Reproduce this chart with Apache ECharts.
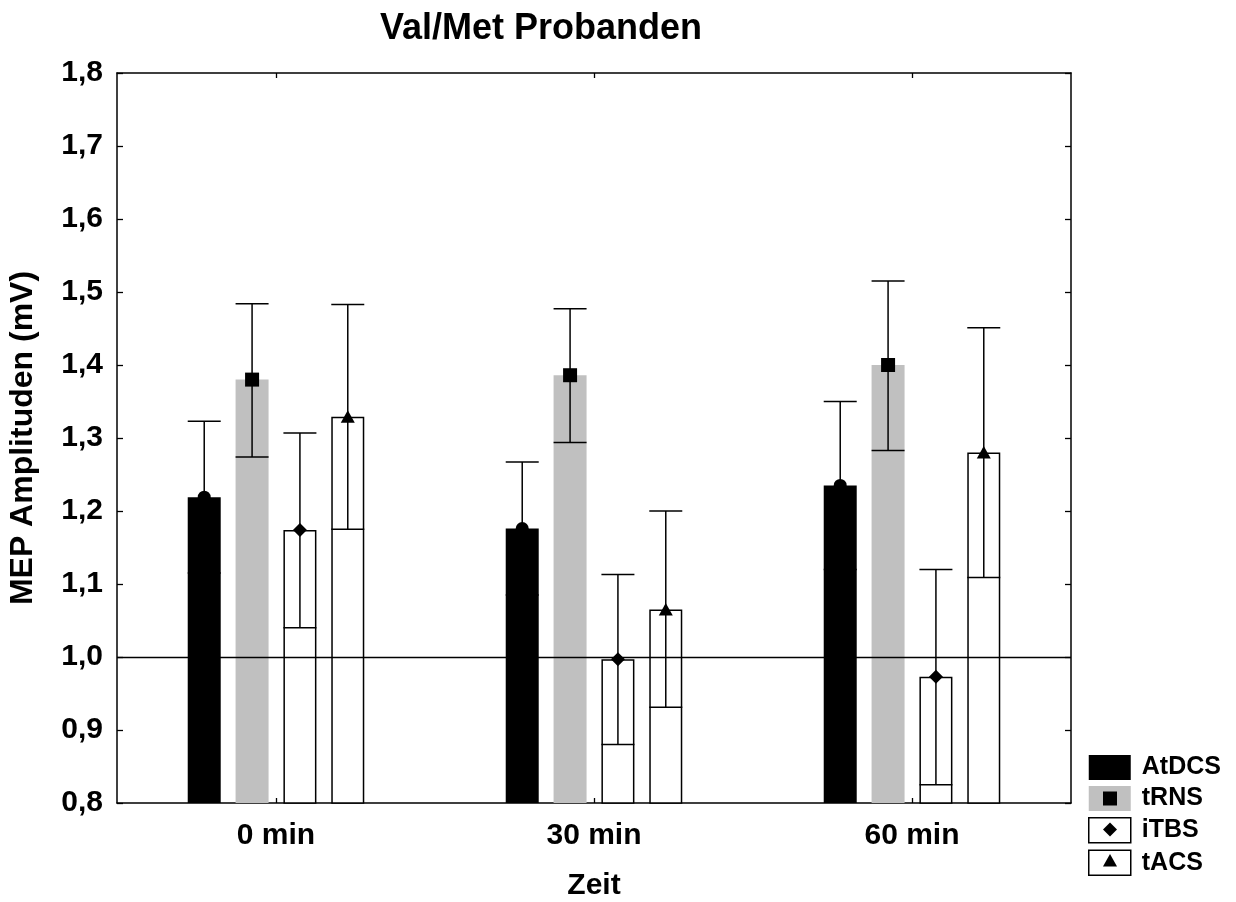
<!DOCTYPE html>
<html>
<head>
<meta charset="utf-8">
<script src="https://cdn.jsdelivr.net/npm/echarts@6/dist/echarts.min.js"></script>
<style>
html,body{margin:0;padding:0;background:#fff;}
#chart{width:1236px;height:902px;}
</style>
</head>
<body>
<div id="chart"></div>
<script>
// ---- data ----
const categories = ['0 min', '30 min', '60 min'];
const seriesNames = ['AtDCS', 'tRNS', 'iTBS', 'tACS'];
const yTickLabels = ['0,8', '0,9', '1,0', '1,1', '1,2', '1,3', '1,4', '1,5', '1,6', '1,7', '1,8'];

const atdcsMean = [1.219, 1.176, 1.235];
const atdcsLow  = [1.115, 1.085, 1.120];
const atdcsHigh = [1.323, 1.267, 1.350];

const trnsMean = [1.380, 1.386, 1.400];
const trnsLow  = [1.274, 1.294, 1.283];
const trnsHigh = [1.484, 1.477, 1.515];

const itbsMean = [1.174, 0.997, 0.973];
const itbsLow  = [1.040, 0.880, 0.825];
const itbsHigh = [1.307, 1.113, 1.120];

const tacsMean = [1.329, 1.065, 1.280];
const tacsLow  = [1.175, 0.931, 1.109];
const tacsHigh = [1.483, 1.200, 1.451];

const refValue = 1.0;

// ---- styles ----
const FONT = "'Liberation Sans', Arial, sans-serif";
const BAR_W = 33;
const BAR_GAP = 0.45;
const STEP = BAR_W * (1 + BAR_GAP);
const LW = 1.5;

const groups = [
  {name: seriesNames[0], mean: atdcsMean, low: atdcsLow, high: atdcsHigh, style: {color: '#000'}, marker: 'circle'},
  {name: seriesNames[1], mean: trnsMean, low: trnsLow, high: trnsHigh, style: {color: '#c0c0c0'}, marker: 'square'},
  {name: seriesNames[2], mean: itbsMean, low: itbsLow, high: itbsHigh, style: {color: '#fff', borderColor: '#000', borderWidth: LW}, marker: 'diamond'},
  {name: seriesNames[3], mean: tacsMean, low: tacsLow, high: tacsHigh, style: {color: '#fff', borderColor: '#000', borderWidth: LW}, marker: 'triangle'}
];

function markerShape(kind, x, y) {
  const st = {fill: '#000'};
  if (kind === 'circle') return {type: 'circle', shape: {cx: x, cy: y, r: 6.5}, style: st};
  if (kind === 'square') return {type: 'rect', shape: {x: x - 7, y: y - 7, width: 14, height: 14}, style: st};
  if (kind === 'diamond') return {type: 'polygon', shape: {points: [[x, y - 7], [x + 7, y], [x, y + 7], [x - 7, y]]}, style: st};
  return {type: 'polygon', shape: {points: [[x, y - 6.5], [x + 7, y + 6], [x - 7, y + 6]]}, style: st};
}

const series = [];
groups.forEach((g, gi) => {
  const s = {
    name: g.name,
    type: 'bar',
    xAxisIndex: 0,
    yAxisIndex: 0,
    barWidth: BAR_W,
    barGap: (BAR_GAP * 100) + '%',
    data: g.mean,
    itemStyle: g.style,
    emphasis: {disabled: true},
    z: 2
  };
  if (gi === 3) {
    s.markLine = {
      silent: true,
      symbol: ['none', 'none'],
      label: {show: false},
      lineStyle: {color: '#000', width: 1.3, type: 'solid'},
      data: [{yAxis: refValue}],
      z: 5
    };
  }
  series.push(s);
});

groups.forEach((g, gi) => {
  series.push({
    name: g.name + ' err',
    type: 'custom',
    xAxisIndex: 0,
    yAxisIndex: 0,
    z: 10,
    silent: true,
    encode: {x: 0, y: [1, 2, 3]},
    data: categories.map((c, i) => [i, g.mean[i], g.low[i], g.high[i]]),
    renderItem: function (params, api) {
      const ci = api.value(0);
      const pm = api.coord([ci, api.value(1)]);
      const pl = api.coord([ci, api.value(2)]);
      const ph = api.coord([ci, api.value(3)]);
      const x = pm[0] + (gi - 1.5) * STEP;
      const half = BAR_W / 2;
      const ls = {stroke: '#000', lineWidth: LW};
      return {
        type: 'group',
        children: [
          {type: 'line', shape: {x1: x, y1: pl[1], x2: x, y2: ph[1]}, style: ls},
          {type: 'line', shape: {x1: x - half, y1: ph[1], x2: x + half, y2: ph[1]}, style: ls},
          {type: 'line', shape: {x1: x - half, y1: pl[1], x2: x + half, y2: pl[1]}, style: ls},
          markerShape(g.marker, x, pm[1])
        ]
      };
    }
  });
});

// legend marker overlays
const LEG_LEFT = 1088, LEG_TOP = 755, LEG_W = 42, LEG_H = 25, LEG_GAP = 6;
const legendGraphics = [];
groups.forEach((g, gi) => {
  if (gi === 0) return;
  const cx = LEG_LEFT + LEG_W / 2 + 1;
  const cy = LEG_TOP + gi * (LEG_H + LEG_GAP) + LEG_H / 2;
  const m = markerShape(g.marker, cx, cy);
  m.z = 100;
  legendGraphics.push(m);
});

const axisLineStyle = {color: '#000', width: LW};

const option = {
  animation: false,
  backgroundColor: '#fff',
  title: {
    text: 'Val/Met Probanden',
    left: 375,
    top: 6,
    textStyle: {fontFamily: FONT, fontSize: 36, fontWeight: 'bold', color: '#000'}
  },
  legend: {
    orient: 'vertical',
    left: LEG_LEFT,
    top: LEG_TOP,
    itemWidth: LEG_W,
    itemHeight: LEG_H,
    itemGap: LEG_GAP,
    padding: 0,
    icon: 'rect',
    selectedMode: false,
    textStyle: {fontFamily: FONT, fontSize: 25, fontWeight: 'bold', color: '#000', padding: [0, 0, 0, 6], lineHeight: 25},
    data: groups.map(g => ({name: g.name, itemStyle: Object.assign({borderWidth: 0}, g.style)}))
  },
  graphic: legendGraphics,
  grid: {left: 117, right: 165, top: 73, bottom: 99, containLabel: false, outerBoundsMode: 'none'},
  xAxis: [
    {
      type: 'category',
      data: categories,
      position: 'bottom',
      axisLine: {show: true, lineStyle: axisLineStyle},
      axisTick: {show: true, inside: true, alignWithLabel: true, length: 5, lineStyle: {color: '#000', width: 1.3}},
      axisLabel: {fontFamily: FONT, fontSize: 30, fontWeight: 'bold', color: '#000', margin: 18},
      splitLine: {show: false},
      name: 'Zeit',
      nameLocation: 'middle',
      nameGap: 68,
      nameTextStyle: {fontFamily: FONT, fontSize: 30, fontWeight: 'bold', color: '#000'}
    },
    {
      type: 'category',
      data: categories,
      position: 'top',
      axisLine: {show: true, lineStyle: axisLineStyle},
      axisTick: {show: true, inside: true, alignWithLabel: true, length: 5, lineStyle: {color: '#000', width: 1.3}},
      axisLabel: {show: false},
      splitLine: {show: false}
    }
  ],
  yAxis: [
    {
      type: 'value',
      min: 0.8,
      max: 1.8,
      interval: 0.1,
      position: 'left',
      axisLine: {show: true, lineStyle: axisLineStyle},
      axisTick: {show: true, inside: true, length: 6, lineStyle: {color: '#000', width: 1.3}},
      axisLabel: {
        fontFamily: FONT, fontSize: 30, fontWeight: 'bold', color: '#000', margin: 14,
        formatter: v => yTickLabels[Math.round((v - 0.8) / 0.1)]
      },
      splitLine: {show: false},
      name: 'MEP Amplituden (mV)',
      nameLocation: 'middle',
      nameRotate: 90,
      nameGap: 78,
      nameTextStyle: {fontFamily: FONT, fontSize: 32, fontWeight: 'bold', color: '#000'}
    },
    {
      type: 'value',
      min: 0.8,
      max: 1.8,
      interval: 0.1,
      position: 'right',
      axisLine: {show: true, lineStyle: axisLineStyle},
      axisTick: {show: true, inside: true, length: 6, lineStyle: {color: '#000', width: 1.3}},
      axisLabel: {show: false},
      splitLine: {show: false}
    }
  ],
  series: series
};

const chart = echarts.init(document.getElementById('chart'), null, {renderer: 'canvas'});
chart.setOption(option);
</script>
</body>
</html>
